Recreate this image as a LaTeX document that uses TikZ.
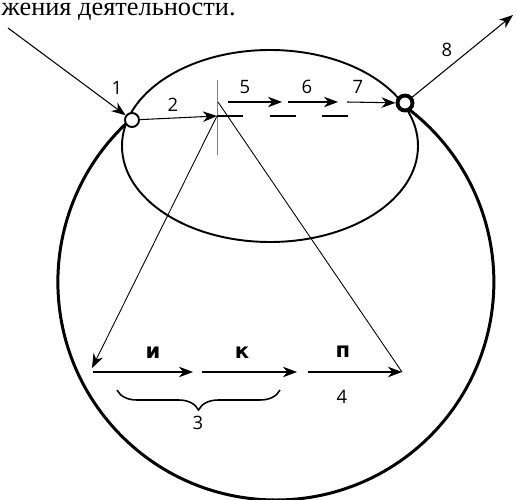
\documentclass[tikz,border=0pt]{standalone}
\usepackage{fontspec}
\setmainfont{Liberation Serif}
\newfontfamily\numfont{Open Sans}
\newfontfamily\letfont{DejaVu Sans}
\usetikzlibrary{arrows.meta,decorations.pathreplacing}
\begin{document}
\begin{tikzpicture}[>={Stealth[length=8pt,width=6pt,inset=2.5pt]}, x=0.02cm, y=0.02cm,
    num/.style={font=\numfont\fontsize{10.5}{12}\selectfont, inner sep=0pt},
    lett/.style={font=\letfont\bfseries\fontsize{12}{14}\selectfont, inner sep=0pt},
    fine/.style={line width=0.6pt}]
    \useasboundingbox (0,0) rectangle (517,500);
    % 1. Подпись сверху
    \node[anchor=base east, inner sep=0pt, font=\fontsize{15}{18}\selectfont] (cap) at (236,484) {жения деятельности.};

    % 2. Большая окружность и эллипс
    \draw[line width=1.7pt] (130,380) arc[start angle=132, end angle=414.2, radius=218];
    \draw[line width=1.1pt] (270,354) ellipse[x radius=148, y radius=96];

    % 3. Узлы на пересечении
    \node[circle, draw, fill=white, line width=1.1pt, minimum size=0.28cm, inner sep=0pt] (n1) at (132,380) {};
    \node[circle, draw, fill=white, line width=2.2pt, minimum size=0.3cm, inner sep=0pt] (n7) at (405,397) {};
    \coordinate (in) at (8,472);
    \coordinate (out) at (513,485);
    \coordinate (x) at (217,384);
    \coordinate (top) at (218,398);
    \coordinate (p) at (402,128);
    \coordinate (low) at (92,132);

    % 4. Стрелки
    \draw[->, fine] (in) -- (n1);
    \draw[->, fine] (n1) -- (x);
    \draw[gray, line width=0.5pt] (217,420) -- (217,345);
    \draw[fine, dash pattern=on 14.7pt off 15.3pt] (x) -- (350,384);
    \draw[->, fine] (228,398) coordinate (a5) -- (282,398);
    \draw[->, fine] (288,398) coordinate (a6) -- (338,398);
    \draw[->, fine] (347,398) coordinate (a7) -- (n7);
    \draw[->, fine] (n7) -- (out);
    \draw[->, line width=0.5pt] (x) -- (low);
    \draw[line width=0.5pt] (top) -- (p);
    \draw[->, fine] (93,128) coordinate (i) -- (193,128);
    \draw[->, fine] (202,128) coordinate (k) -- (297,128);
    \draw[->, fine] (308,128) coordinate (pp) -- (p);
    \draw[line width=0.9pt, decorate, decoration={brace, amplitude=0.4cm}] (280,110) -- (117,110);

    % 5. Подписи
    \node[num] (l1) at (117,412) {1};
    \node[num] (l2) at (173,395) {2};
    \node[num] (l5) at (245,413) {5};
    \node[num] (l6) at (307,413) {6};
    \node[num] (l7) at (358,413) {7};
    \node[num] (l8) at (447,450) {8};
    \node[num] (l3) at (198,77) {3};
    \node[num] (l4) at (342,103) {4};
    \node[lett] (li) at (153,147) {и};
    \node[lett] (lk) at (242,147) {к};
    \node[lett] (lp) at (343,148) {п};
\end{tikzpicture}
\end{document}
